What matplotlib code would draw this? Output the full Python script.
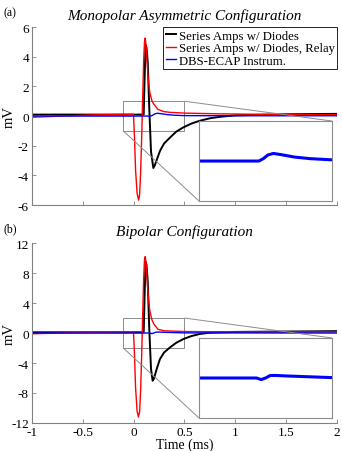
import matplotlib
matplotlib.use("Agg")
import matplotlib.pyplot as plt
from mpl_toolkits.axes_grid1.inset_locator import mark_inset

plt.rcParams['font.family'] = ['Liberation Serif', 'DejaVu Serif']
plt.rcParams['axes.unicode_minus'] = False

# ---------------- data ----------------
# (a) monopolar asymmetric configuration
a_black_t = [-1, -0.5, 0.0, 0.1, 0.11, 0.118, 0.128, 0.14, 0.155, 0.172, 0.195, 0.21,
             0.26, 0.3, 0.36, 0.42, 0.49, 0.57, 0.65, 0.75, 0.85, 1.0, 1.5, 2.0]
a_black_v = [0.1, 0.1, 0.1, 0.1, 2.8, 4.8, 4.6, 3.6, 0.5, -2.4, -3.5, -3.3,
             -2.35, -1.85, -1.44, -1.05, -0.76, -0.5, -0.32, -0.15, -0.05, 0.05, 0.12, 0.15]

a_red_t = [-1, -0.7, -0.4, -0.02, 0.0, 0.01, 0.02, 0.035, 0.05, 0.06, 0.07, 0.08, 0.09, 0.1,
           0.108, 0.115, 0.123, 0.133, 0.145, 0.16, 0.18, 0.2, 0.24, 0.3, 0.36, 0.5, 0.85, 1.5, 2.0]
a_red_v = [-0.08, 0.0, 0.08, 0.12, 0.1, -1.5, -3.6, -5.2, -5.66, -5.3, -3.8, -1.5, 1.2, 3.8,
           5.0, 5.26, 4.8, 3.7, 2.5, 1.6, 1.05, 0.8, 0.45, 0.3, 0.25, 0.2, 0.15, 0.1, 0.1]

a_blue_t = [-1, 0.17, 0.19, 0.21, 0.235, 0.27, 0.33, 0.4, 0.5, 1.0, 2.0]
a_blue_v = [0.0, 0.0, 0.06, 0.15, 0.19, 0.16, 0.1, 0.06, 0.03, 0.02, 0.02]

# (b) bipolar configuration
b_black_t = [-1, -0.5, 0.0, 0.1, 0.11, 0.118, 0.128, 0.14, 0.155, 0.172, 0.188, 0.2,
             0.23, 0.26, 0.3, 0.36, 0.42, 0.49, 0.57, 0.65, 0.75, 1.0, 1.5, 2.0]
b_black_v = [0.1, 0.1, 0.1, 0.1, 5.5, 9.5, 9.1, 6.8, 0.5, -4.8, -6.36, -6.1,
             -4.7, -3.47, -2.6, -1.9, -1.3, -0.8, -0.4, -0.13, 0.05, 0.15, 0.2, 0.25]

b_red_t = [-1, -0.6, -0.02, 0.0, 0.01, 0.02, 0.035, 0.048, 0.06, 0.07, 0.08, 0.09, 0.1,
           0.108, 0.115, 0.123, 0.133, 0.145, 0.16, 0.18, 0.2, 0.24, 0.3, 0.5, 1.0, 2.0]
b_red_v = [-0.1, 0.05, 0.15, 0.1, -3.0, -7.2, -10.4, -11.2, -10.5, -7.6, -3.0, 2.3, 7.4,
           9.8, 10.2, 9.4, 7.3, 4.9, 3.0, 1.8, 1.2, 0.5, 0.3, 0.2, 0.15, 0.15]

b_blue_t = [-1, 0.16, 0.18, 0.2, 0.22, 0.24, 0.3, 0.4, 0.5, 2.0]
b_blue_v = [0.0, 0.0, -0.08, 0.0, 0.12, 0.13, 0.1, 0.06, 0.02, 0.0]

labels = ["Series Amps w/ Diodes", "Series Amps w/ Diodes, Relay", "DBS-ECAP Instrum."]
colors = ["black", "#ff0000", "#0000ff"]

panels = [
    dict(tag="(a)", title="Monopolar Asymmetric Configuration",
         black=(a_black_t, a_black_v), red=(a_red_t, a_red_v), blue=(a_blue_t, a_blue_v),
         ylim=(-6, 6), yticks=[-6, -4, -2, 0, 2, 4, 6], zoom_y=(-1, 1),
         rect=[0.0927, 0.544, 0.893, 0.394], inset=[0.582, 0.553, 0.389, 0.177]),
    dict(tag="(b)", title="Bipolar Configuration",
         black=(b_black_t, b_black_v), red=(b_red_t, b_red_v), blue=(b_blue_t, b_blue_v),
         ylim=(-12, 12), yticks=[-12, -8, -4, 0, 4, 8, 12], zoom_y=(-2, 2),
         rect=[0.0927, 0.062, 0.893, 0.398], inset=[0.582, 0.073, 0.389, 0.177]),
]
zoom_x = (-0.1, 0.5)

fig = plt.figure(figsize=(3.42, 4.52), dpi=100)

for i, p in enumerate(panels):
    ax = fig.add_axes(p["rect"])
    for key, c, lab in zip(["black", "red", "blue"], colors, labels):
        t, v = p[key]
        lw = 1.4 if key == "black" else 1.0
        ax.plot(t, v, color=c, lw=lw, label=lab)
    ax.set_xlim(-1, 2)
    ax.set_ylim(*p["ylim"])
    ax.set_yticks(p["yticks"])
    ax.set_xticks([-1, -0.5, 0, 0.5, 1, 1.5, 2])
    ax.spines["top"].set_visible(False)
    ax.spines["right"].set_visible(False)
    for s in ["left", "bottom"]:
        ax.spines[s].set_color("0.5")
        ax.spines[s].set_linewidth(0.8)
    ax.tick_params(direction="in", length=3, width=0.6, color="0.5", labelsize=9.5, pad=2)
    ax.set_ylabel("mV", fontsize=10.5, va="center")
    ax.yaxis.set_label_coords(-0.072, 0.5)
    ax.set_title(p["title"], fontsize=11, style="italic", pad=6)
    fig.text(0.01, p["rect"][1] + p["rect"][3] + 0.032, p["tag"], fontsize=8.5, va="center")
    if i == 0:
        ax.tick_params(labelbottom=False)
        leg = ax.legend(loc="upper right", fontsize=9.2, handlelength=0.8, handletextpad=0.2,
                        borderpad=0.2, labelspacing=0.05, fancybox=False, framealpha=1,
                        borderaxespad=0.0, bbox_to_anchor=(1.0, 1.0))
        leg.get_frame().set_edgecolor("black")
        leg.get_frame().set_linewidth(0.6)
    else:
        ax.set_xticklabels(["-1", "-0.5", "0", "0.5", "1", "1.5", "2"])
        ax.set_xlabel("Time (ms)", fontsize=10, labelpad=0)

    axins = fig.add_axes(p["inset"])
    t, v = p["blue"]
    axins.plot(t, v, color=colors[2], lw=2.2)
    axins.set_xlim(*zoom_x)
    axins.set_ylim(*p["zoom_y"])
    axins.set_xticks([])
    axins.set_yticks([])
    for s in axins.spines.values():
        s.set_color("0.55")
        s.set_linewidth(0.8)
    mark_inset(ax, axins, loc1=1, loc2=3, fc="none", ec="0.55", lw=0.7)

fig.savefig("out.png", dpi=100)
